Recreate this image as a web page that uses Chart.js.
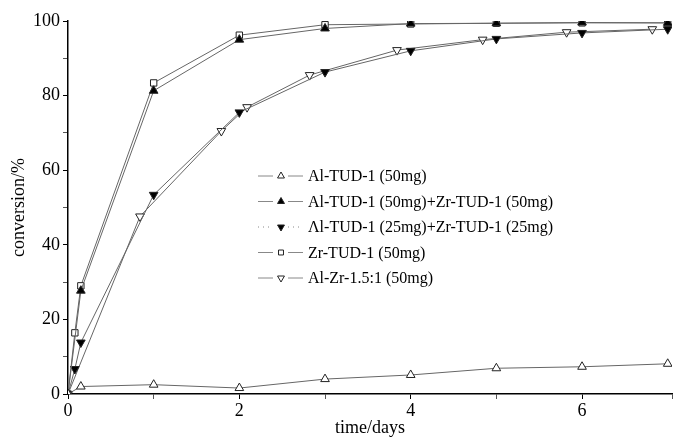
<!DOCTYPE html>
<html>
<head>
<meta charset="utf-8">
<script src="https://cdn.jsdelivr.net/npm/chart.js@4/dist/chart.umd.min.js"></script>
<style>
  body { margin: 0; background: #fff; }
  #wrap { width: 678px; height: 439px; }
</style>
</head>
<body>
<div id="wrap"><canvas id="conv"></canvas></div>
<script>
// sampling times (days)
const timeDays = [0, 0.08, 0.15, 1, 2, 3, 4, 5, 6, 7];
const alZrTime = [0, 0.84, 1.79, 2.09, 2.82, 3.84, 4.84, 5.82, 6.82];

// conversion (%)
const alTud50 = [0, null, 2.0, 2.5, 1.6, 4.0, 5.1, 6.9, 7.3, 8.1];
const alZr50 = [0, null, 27.7, 81.3, 95.0, 98.0, 99.3, 99.4, 99.6, 99.5];
const alZr25 = [0, 6.7, 13.8, 53.4, 75.5, 86.3, 92.0, 95.2, 96.8, 97.8];
const zrTud50 = [0, 16.4, 29.0, 83.4, 96.2, 99.0, 99.2, 99.4, 99.5, 99.5];
const alZr15 = [0, 47.6, 70.5, 76.9, 85.5, 92.2, 95.0, 97.0, 97.8];

const seriesNames = [
  'Al-TUD-1 (50mg)',
  'Al-TUD-1 (50mg)+Zr-TUD-1 (50mg)',
  '\u039Bl-TUD-1 (25mg)+Zr-TUD-1 (25mg)',
  'Zr-TUD-1 (50mg)',
  'Al-Zr-1.5:1 (50mg)'
];

const serif = "'Liberation Serif', 'DejaVu Serif', serif";

function pts(xs, ys) {
  return xs.map((x, i) => ({ x: x, y: ys[i] }));
}

function series(label, data, style, rot, filled, r) {
  return {
    label: label,
    data: data,
    borderColor: '#666',
    borderWidth: 1,
    pointStyle: style,
    rotation: rot,
    pointRadius: r,
    pointBorderWidth: 1,
    pointBorderColor: '#222',
    pointBackgroundColor: filled ? '#000' : '#fff',
    tension: 0,
    spanGaps: true,
    fill: false
  };
}

const datasets = [
  series(seriesNames[0], pts(timeDays, alTud50), 'triangle', 0, false, 5),
  series(seriesNames[1], pts(timeDays, alZr50), 'triangle', 0, true, 5),
  series(seriesNames[2], pts(timeDays, alZr25), 'triangle', 180, true, 5),
  series(seriesNames[3], pts(timeDays, zrTud50), 'rect', 0, false, 4.5),
  series(seriesNames[4], pts(alZrTime, alZr15), 'triangle', 180, false, 5)
];

// legend drawn as "line - marker - line  label"
const inlineLegend = {
  id: 'inlineLegend',
  afterDatasetsDraw(chart) {
    const ctx = chart.ctx;
    const x0 = 258, mx = 281, tx = 308, y0 = 176, dy = 25.5;
    ctx.save();
    chart.data.datasets.forEach((ds, i) => {
      const y = y0 + i * dy;
      ctx.strokeStyle = '#888';
      ctx.lineWidth = 1;
      if (i === 2) ctx.setLineDash([1, 4]); else ctx.setLineDash([]);
      ctx.beginPath();
      ctx.moveTo(x0, y); ctx.lineTo(x0 + 15, y);
      ctx.moveTo(mx + 7, y); ctx.lineTo(mx + 22, y);
      ctx.stroke();
      ctx.setLineDash([]);
      ctx.fillStyle = ds.pointBackgroundColor;
      ctx.strokeStyle = ds.pointBorderColor;
      Chart.helpers.drawPoint(ctx, {
        pointStyle: ds.pointStyle,
        rotation: ds.rotation,
        radius: ds.pointStyle === 'rect' ? 3.5 : 4,
        borderWidth: 1
      }, mx, y);
      ctx.fillStyle = '#000';
      ctx.font = '16px ' + serif;
      ctx.textAlign = 'left';
      ctx.textBaseline = 'middle';
      ctx.fillText(ds.label, tx, y + 1);
    });
    ctx.restore();
  }
};

new Chart(document.getElementById('conv'), {
  type: 'line',
  data: { datasets: datasets },
  options: {
    responsive: true,
    maintainAspectRatio: false,
    animation: false,
    layout: { padding: { top: 21, right: 2, left: 0, bottom: 0 } },
    plugins: {
      legend: { display: false },
      tooltip: { enabled: false }
    },
    scales: {
      x: {
        type: 'linear',
        min: 0,
        max: 7.05,
        afterFit: s => { s.height = 45; },
        border: { color: '#000', width: 1.5 },
        grid: {
          drawOnChartArea: false,
          tickLength: 5,
          tickColor: c => (c.tick && c.tick.value % 2 === 0 ? '#000' : '#555')
        },
        ticks: {
          stepSize: 1,
          padding: 1,
          maxRotation: 0,
          color: '#000',
          font: { family: serif, size: 18 },
          callback: v => (v % 2 === 0 ? String(v) : '')
        },
        title: {
          display: true,
          text: 'time/days',
          color: '#000',
          font: { family: serif, size: 18 },
          padding: { top: 0, bottom: 0 }
        }
      },
      y: {
        min: 0,
        max: 100,
        afterFit: s => { s.width = 68; },
        border: { color: '#000', width: 1.5 },
        grid: {
          drawOnChartArea: false,
          tickLength: 5,
          tickColor: c => (c.tick && c.tick.value % 20 === 0 ? '#000' : '#555')
        },
        ticks: {
          stepSize: 10,
          padding: 3,
          color: '#000',
          font: { family: serif, size: 18 },
          callback: v => (v % 20 === 0 ? String(v) : '')
        },
        title: {
          display: true,
          text: 'conversion/%',
          color: '#000',
          font: { family: serif, size: 18 },
          padding: { top: 8, bottom: 0 }
        }
      }
    }
  },
  plugins: [inlineLegend]
});
</script>
</body>
</html>
